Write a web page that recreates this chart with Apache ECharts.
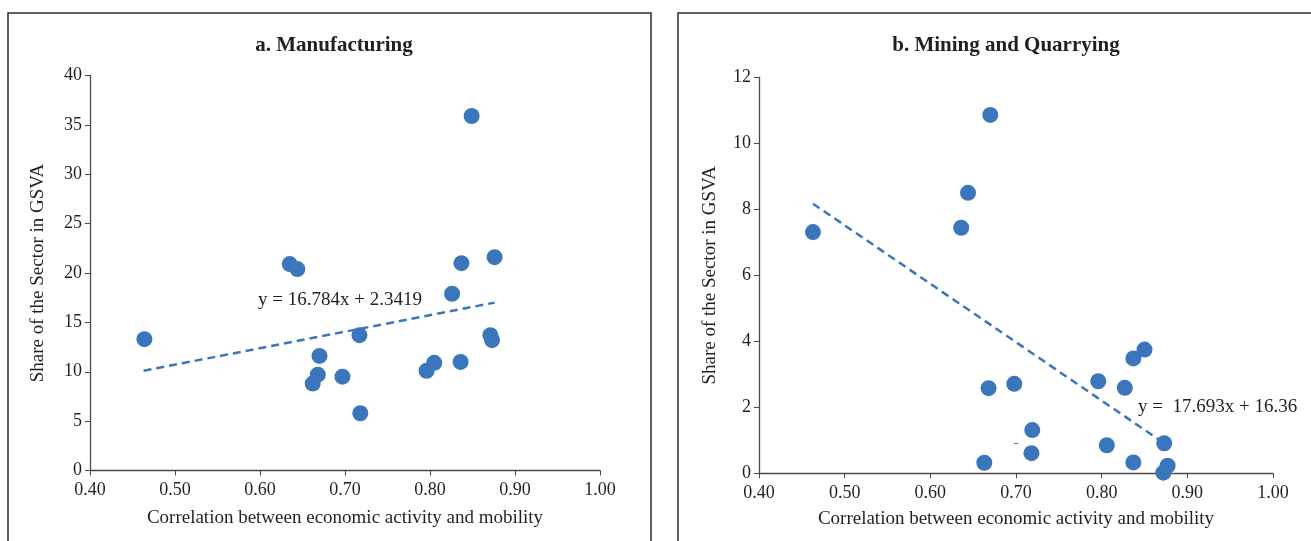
<!DOCTYPE html>
<html>
<head>
<meta charset="utf-8">
<script src="https://cdn.jsdelivr.net/npm/echarts@6/dist/echarts.min.js"></script>
<style>
  html, body { margin: 0; padding: 0; background: #fff; }
  #chart { width: 1311px; height: 541px; }
</style>
</head>
<body>
<div id="chart"></div>
<script>
"use strict";

// ── Datos ──────────────────────────────────────────────────────────────────
const corrX = [0.464, 0.635, 0.644, 0.670, 0.668, 0.662, 0.697, 0.717, 0.718,
               0.796, 0.805, 0.836, 0.826, 0.837, 0.849, 0.876, 0.871, 0.873];
const manufShare = [13.3, 20.9, 20.4, 11.6, 9.7, 8.8, 9.5, 13.7, 5.8,
                    10.1, 10.9, 11.0, 17.9, 21.0, 35.9, 21.6, 13.7, 13.2];

const miningX = [0.463, 0.636, 0.644, 0.670, 0.668, 0.663, 0.698, 0.719, 0.718,
                 0.796, 0.806, 0.827, 0.837, 0.850, 0.837, 0.873, 0.877, 0.872];
const miningShare = [7.31, 7.44, 8.50, 10.86, 2.58, 0.32, 2.71, 1.31, 0.61,
                     2.79, 0.85, 2.59, 3.48, 3.75, 0.33, 0.91, 0.23, 0.02];

// extremos de las líneas de tendencia
const manufTrendX = [0.463, 0.876];
const manufTrendY = [10.1, 17.0];
const miningTrendX = [0.463, 0.873];
const miningTrendY = [8.17, 0.91];

const xTicks = { min: 0.4, max: 1.0, interval: 0.1 };
const manufTicks = { min: 0, max: 40, interval: 5 };
const miningTicks = { min: 0, max: 12, interval: 2 };

const titles = ["a. Manufacturing", "b. Mining and Quarrying"];
const xName = "Correlation between economic activity and mobility";
const yName = "Share of the Sector in GSVA";
const trendLabels = ["y = 16.784x + 2.3419", "y =  17.693x + 16.36"];

// ── Estilos ────────────────────────────────────────────────────────────────
const BLUE = "#3b76bd";
const AXIS = "#4a4a4a";
const FONT = "'Liberation Serif', 'DejaVu Serif', serif";
const TXT = "#231f20";

function pairs(xs, ys) { return xs.map((x, i) => [x, ys[i]]); }

function xAxisCfg(gridIndex, gap) {
  return {
    type: "value", gridIndex, ...xTicks,
    name: xName, nameLocation: "middle", nameGap: gap,
    nameTextStyle: { fontFamily: FONT, fontSize: 19, color: TXT },
    axisLine: { show: true, onZero: false, lineStyle: { color: AXIS, width: 1.3 } },
    axisTick: { show: true, length: 5, lineStyle: { color: AXIS } },
    axisLabel: { fontFamily: FONT, fontSize: 18, color: TXT, margin: 11,
                 formatter: v => v.toFixed(2) },
    splitLine: { show: false },
  };
}

function yAxisCfg(gridIndex, ticks, gap) {
  return {
    type: "value", gridIndex, ...ticks,
    name: yName, nameLocation: "middle", nameGap: gap, nameRotate: 90,
    nameTextStyle: { fontFamily: FONT, fontSize: 19, color: TXT },
    axisLine: { show: true, lineStyle: { color: AXIS, width: 1.3 } },
    axisTick: { show: true, length: 5, lineStyle: { color: AXIS } },
    axisLabel: { fontFamily: FONT, fontSize: 18, color: TXT, margin: 8 },
    splitLine: { show: false },
  };
}

function scatterSeries(idx, data) {
  return {
    type: "scatter", xAxisIndex: idx, yAxisIndex: idx,
    data, symbolSize: 16, itemStyle: { color: BLUE, opacity: 1 }, z: 3,
  };
}

function trendSeries(idx, data) {
  return {
    type: "line", xAxisIndex: idx, yAxisIndex: idx,
    data, symbol: "none", silent: true, z: 2,
    lineStyle: { color: BLUE, width: 2.5, type: [8, 5] },
  };
}

const chart = echarts.init(document.getElementById("chart"), null, { renderer: "canvas" });

chart.setOption({
  animation: false,
  backgroundColor: "#fff",
  title: [
    { text: titles[0], left: 329, top: 30, textAlign: "center",
      textStyle: { fontFamily: FONT, fontSize: 21, fontWeight: "bold", color: TXT } },
    { text: titles[1], left: 1001, top: 30, textAlign: "center",
      textStyle: { fontFamily: FONT, fontSize: 21, fontWeight: "bold", color: TXT } },
  ],
  grid: [
    { left: 90, top: 75.5, width: 510, height: 395 },
    { left: 759, top: 77.3, width: 514, height: 396 },
  ],
  xAxis: [xAxisCfg(0, 38), xAxisCfg(1, 36)],
  yAxis: [yAxisCfg(0, manufTicks, 42), yAxisCfg(1, miningTicks, 39)],
  series: [
    trendSeries(0, pairs(manufTrendX, manufTrendY)),
    scatterSeries(0, pairs(corrX, manufShare)),
    trendSeries(1, pairs(miningTrendX, miningTrendY)),
    scatterSeries(1, pairs(miningX, miningShare)),
  ],
  graphic: [
    { type: "rect", shape: { x: 8, y: 13, width: 643, height: 560 },
      style: { fill: "none", stroke: "#2b2b2b", lineWidth: 1.5 }, silent: true },
    { type: "rect", shape: { x: 678, y: 13, width: 700, height: 560 },
      style: { fill: "none", stroke: "#2b2b2b", lineWidth: 1.5 }, silent: true },
    { type: "text", left: 258, top: 291, z: 10,
      style: { text: trendLabels[0], font: "19px " + FONT, fill: TXT } },
    { type: "text", left: 1138, top: 398, z: 10,
      style: { text: trendLabels[1], font: "19px " + FONT, fill: TXT } },
    { type: "text", left: 1014, top: 438, z: 10,
      style: { text: "-", font: "12px " + FONT, fill: "#555" } },
  ],
});
</script>
</body>
</html>
